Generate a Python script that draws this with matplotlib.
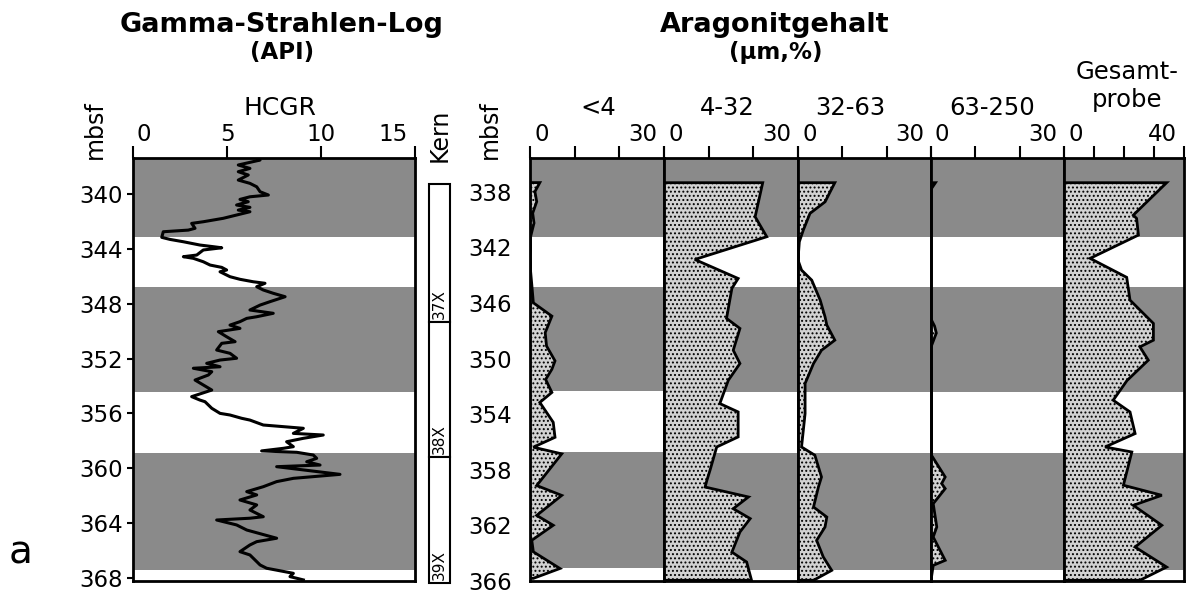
import matplotlib.pyplot as plt
from matplotlib.patches import Rectangle
from matplotlib.transforms import ScaledTranslation

W, H = 1195, 605

# --- Gamma-Strahlen-Log (HCGR, API) vs. depth (mbsf, left scale)
gr_depth = [337.37, 337.52, 337.88, 338.13, 338.37, 338.61, 338.98, 339.22, 339.47, 339.83,
            340.07, 340.20, 340.39, 340.56, 340.80, 340.97, 341.17, 341.29, 341.53, 341.77,
            342.02, 342.14, 342.50, 342.63, 342.75, 343.16, 343.31, 343.48, 343.72, 343.84,
            343.92, 344.08, 344.45, 344.57, 344.69, 344.94, 345.18, 345.35, 345.54, 345.67,
            346.03, 346.22, 346.40, 346.51, 346.76, 347.00, 347.24, 347.49, 347.85, 348.10,
            348.46, 348.70, 348.95, 349.07, 349.31, 349.56, 349.80, 350.04, 350.41, 350.77,
            350.89, 351.38, 351.62, 351.98, 352.11, 352.35, 352.60, 352.71, 352.96, 353.20,
            353.57, 353.93, 354.30, 354.78, 355.03, 355.15, 355.63, 356.00, 356.12, 356.36,
            356.49, 356.85, 356.97, 357.09, 357.46, 357.58, 357.82, 358.07, 358.43, 358.55,
            358.74, 358.84, 359.04, 359.28, 359.53, 359.77, 359.89, 360.45, 360.74, 360.98,
            361.35, 361.71, 361.95, 362.32, 362.68, 363.05, 363.54, 363.65, 363.78, 364.14,
            364.51, 365.11, 365.36, 365.60, 366.09, 366.33, 367.06, 367.30, 367.67, 367.91,
            368.15]
gr_value = [6.6, 6.76, 5.60, 6.22, 5.60, 6.13, 5.60, 6.22, 6.58, 6.76,
            7.20, 6.22, 5.69, 6.13, 5.51, 6.22, 5.60, 6.22, 5.51, 4.80,
            3.74, 3.12, 3.30, 2.94, 1.61, 1.53, 1.97, 2.68, 3.56, 4.27,
            4.72, 3.74, 3.39, 2.68, 3.21, 3.74, 4.10, 4.72, 4.98, 4.63,
            5.16, 5.69, 6.40, 7.02, 6.58, 6.93, 7.46, 8.09, 7.29, 6.76,
            6.22, 7.46, 6.58, 6.05, 5.69, 5.16, 5.69, 4.54, 4.98, 5.43,
            4.72, 4.45, 5.16, 5.51, 4.63, 3.92, 4.63, 3.21, 4.19, 4.01,
            3.30, 3.74, 4.19, 3.12, 3.56, 3.83, 4.19, 4.63, 5.16, 5.78,
            6.22, 6.93, 8.00, 9.06, 8.53, 10.12, 9.06, 8.17, 8.53, 8.00,
            6.84, 8.71, 9.59, 9.77, 9.24, 9.95, 7.64, 11.01, 8.53, 7.64,
            6.93, 6.05, 6.58, 5.69, 6.58, 6.22, 6.93, 6.22, 4.45, 5.51,
            6.05, 7.64, 6.58, 6.22, 5.69, 6.22, 6.76, 7.11, 8.53, 8.35,
            9.06]

# grey intervals, in each panel's depth scale
left_bands = [(337.37, 343.14), (346.78, 354.44), (358.89, 367.42)]
right_bands = [(335.56, 341.23), (344.81, 352.34), (356.71, 365.10)]

# cores
core_names = ["37X", "38X", "39X"]
core_top = [339.27, 349.34, 359.18]
core_bot = [349.34, 359.18, 368.37]

# --- Aragonitgehalt (%) per grain size fraction, depth on right scale
lt4_depth = [337.33, 337.98, 338.70, 339.53, 340.24, 341.20, 342.64, 343.59, 344.67, 345.98,
             346.94, 348.13, 349.09, 350.16, 350.76, 351.50, 352.43, 353.15, 354.58, 355.66,
             356.37, 356.85, 359.13, 359.84, 361.28, 361.99, 363.07, 363.90, 365.10, 365.81]
lt4_value = [2.2, 1.1, 1.5, 0.6, 0.9, 0.15, 0.0, 0.1, 0.4, 0.75,
             4.9, 3.4, 3.7, 5.6, 4.9, 3.5, 4.9, 2.2, 5.2, 5.6,
             0.75, 7.1, 1.5, 7.1, 1.5, 5.2, 0.4, 0.75, 6.7, 0.75]

f4_32_depth = [337.33, 339.77, 341.20, 342.83, 344.19, 344.90, 347.05, 347.77, 349.33, 350.28,
               351.48, 353.15, 353.75, 355.54, 356.26, 357.93, 358.65, 359.13, 359.84, 360.68,
               361.39, 362.35, 363.79, 364.50, 365.81]
f4_32_value = [22.1, 20.4, 23.0, 6.9, 16.6, 15.2, 14.0, 17.0, 15.5, 17.0,
               14.4, 12.5, 16.6, 16.6, 11.8, 10.3, 9.6, 9.2, 18.9, 15.5,
               19.3, 17.0, 15.2, 18.5, 19.6]

f32_63_depth = [337.33, 338.70, 339.53, 340.72, 341.56, 342.87, 343.59, 344.31, 345.74, 346.94,
                347.53, 348.61, 349.33, 350.28, 351.71, 353.87, 356.26, 356.85, 358.41, 359.13,
                360.56, 361.28, 361.99, 362.95, 364.14, 365.10, 365.81]
f32_63_value = [8.3, 6.1, 2.7, 1.2, 0.3, 0.0, 0.8, 3.1, 5.0, 6.1,
                6.5, 8.3, 5.3, 3.5, 1.6, 1.6, 0.8, 3.8, 5.3, 4.6,
                3.5, 6.5, 6.1, 4.2, 5.7, 7.6, 3.5]

f63_250_depth = [337.33, 337.80, 347.10, 347.60, 348.10, 348.60, 349.10, 356.85, 358.41, 358.88,
                 359.24, 360.32, 361.99, 362.71, 364.38, 364.74, 365.81]
f63_250_value = [1.0, 0.0, 0.0, 0.8, 1.2, 0.6, 0.0, 0.1, 3.2, 2.4,
                 3.2, 0.5, 1.3, 0.5, 3.2, 0.5, 0.0]

total_depth = [337.33, 339.65, 339.89, 341.08, 342.75, 344.11, 345.74, 347.41, 348.61, 349.09,
               350.04, 351.50, 352.91, 353.75, 355.30, 356.26, 356.62, 359.00, 359.72, 360.44,
               361.87, 363.43, 364.86, 365.81]
total_value = [34.2, 23.1, 24.2, 24.8, 8.7, 20.9, 22.0, 29.8, 29.8, 25.3,
               28.1, 21.0, 16.4, 22.0, 23.7, 13.7, 22.6, 19.8, 32.6, 23.1,
               32.6, 23.7, 34.2, 25.3]

fraction_labels = ["<4", "4-32", "32-63", "63-250", "Gesamt-\nprobe"]
fraction_max = [30, 30, 30, 30, 40]
left_yticks = [340, 344, 348, 352, 356, 360, 364, 368]
right_yticks = [338, 342, 346, 350, 354, 358, 362, 366]

BAND = "#8a8a8a"
FILL = "#d2d2d2"
plt.rcParams["hatch.linewidth"] = 0.9

fig = plt.figure(figsize=(W / 100, H / 100), dpi=100)


def px_axes(x0, y0, x1, y1):
    return fig.add_axes([x0 / W, 1 - y1 / H, (x1 - x0) / W, (y1 - y0) / H])


def px_text(x, y, s, **kw):
    fig.text(x / W, 1 - y / H, s, ha="center", va="center", **kw)


def top_ticks(ax, ticks, labels):
    ax.xaxis.tick_top()
    ax.set_xticks(ticks)
    ax.set_xticklabels(labels)
    ax.tick_params(axis="x", direction="out", length=8.5, width=1.5, pad=0, labelsize=16.5)
    tl = ax.get_xticklabels()
    # end labels pulled inside the column
    tl[0].set_ha("left")
    tl[0].set_transform(tl[0].get_transform() + ScaledTranslation(0.04, 0, fig.dpi_scale_trans))
    tl[-1].set_ha("right")
    tl[-1].set_transform(tl[-1].get_transform() + ScaledTranslation(-0.07, 0, fig.dpi_scale_trans))


# ---- left panel: gamma ray log
ax = px_axes(133, 158, 415, 581)
for top, bot in left_bands:
    ax.axhspan(top, bot, color=BAND, lw=0)
ax.plot(gr_value, gr_depth, color="black", lw=2.2)
ax.set_xlim(0, 15)
ax.set_ylim(368.23, 337.37)
top_ticks(ax, [0, 5, 10, 15], ["0", "5", "10", "15"])
ax.set_yticks(left_yticks)
ax.tick_params(axis="y", length=4, width=1.5, pad=3, labelsize=16.5)
for sp in ax.spines.values():
    sp.set_linewidth(2)

# core column
axk = px_axes(429, 158, 450, 581)
axk.set_xlim(0, 1)
axk.set_ylim(368.23, 337.37)
axk.axis("off")
for name, top, bot in zip(core_names, core_top, core_bot):
    axk.add_patch(Rectangle((0, top), 1, bot - top, facecolor="white",
                            edgecolor="black", lw=1.5, clip_on=False))
    axk.text(0.5, bot - 0.2, name, rotation=90, ha="center", va="bottom",
             fontsize=11, clip_on=False)

# ---- right panel: aragonite content per fraction
depths = [lt4_depth, f4_32_depth, f32_63_depth, f63_250_depth, total_depth]
values = [lt4_value, f4_32_value, f32_63_value, f63_250_value, total_value]
edges = [530, 664, 798, 931, 1064, 1184]
for i in range(5):
    ax = px_axes(edges[i], 158, edges[i + 1], 581)
    for top, bot in right_bands:
        ax.axhspan(top, bot, color=BAND, lw=0)
    ax.fill_betweenx(depths[i], 0, values[i], facecolor=FILL, edgecolor="black",
                     hatch="....", lw=2, joinstyle="miter")
    ax.set_xlim(0, fraction_max[i])
    ax.set_ylim(365.86, 335.56)
    ticks = list(range(0, fraction_max[i] + 1, 10))
    labels = [""] * len(ticks)
    labels[0] = "0"
    labels[-1] = str(fraction_max[i])
    top_ticks(ax, ticks, labels)
    if i == 0:
        ax.set_yticks(right_yticks)
        ax.tick_params(axis="y", length=0, pad=13, labelsize=16.5)
    else:
        ax.set_yticks([])
    for sp in ax.spines.values():
        sp.set_linewidth(2)

# ---- texts
px_text(282, 25, "Gamma-Strahlen-Log", fontsize=19.5, fontweight="bold")
px_text(282, 53, "(API)", fontsize=16.5, fontweight="bold")
px_text(775, 25, "Aragonitgehalt", fontsize=19.5, fontweight="bold")
px_text(776, 53, "(\u03bcm,%)", fontsize=16.5, fontweight="bold")
px_text(280, 108, "HCGR", fontsize=18)
px_text(95, 130, "mbsf", fontsize=17, rotation=90)
px_text(490, 130, "mbsf", fontsize=17, rotation=90)
px_text(440, 135, "Kern", fontsize=17, rotation=90)
label_x = [598, 727, 850, 992, 1127]
for lx, lab in zip(label_x, fraction_labels):
    if "\n" in lab:
        a, b = lab.split("\n")
        px_text(lx, 72, a, fontsize=17.5)
        px_text(lx, 100, b, fontsize=17.5)
    else:
        px_text(lx, 108, lab, fontsize=17.5)
px_text(21, 553, "a", fontsize=28)

fig.savefig("out.png", dpi=100)
